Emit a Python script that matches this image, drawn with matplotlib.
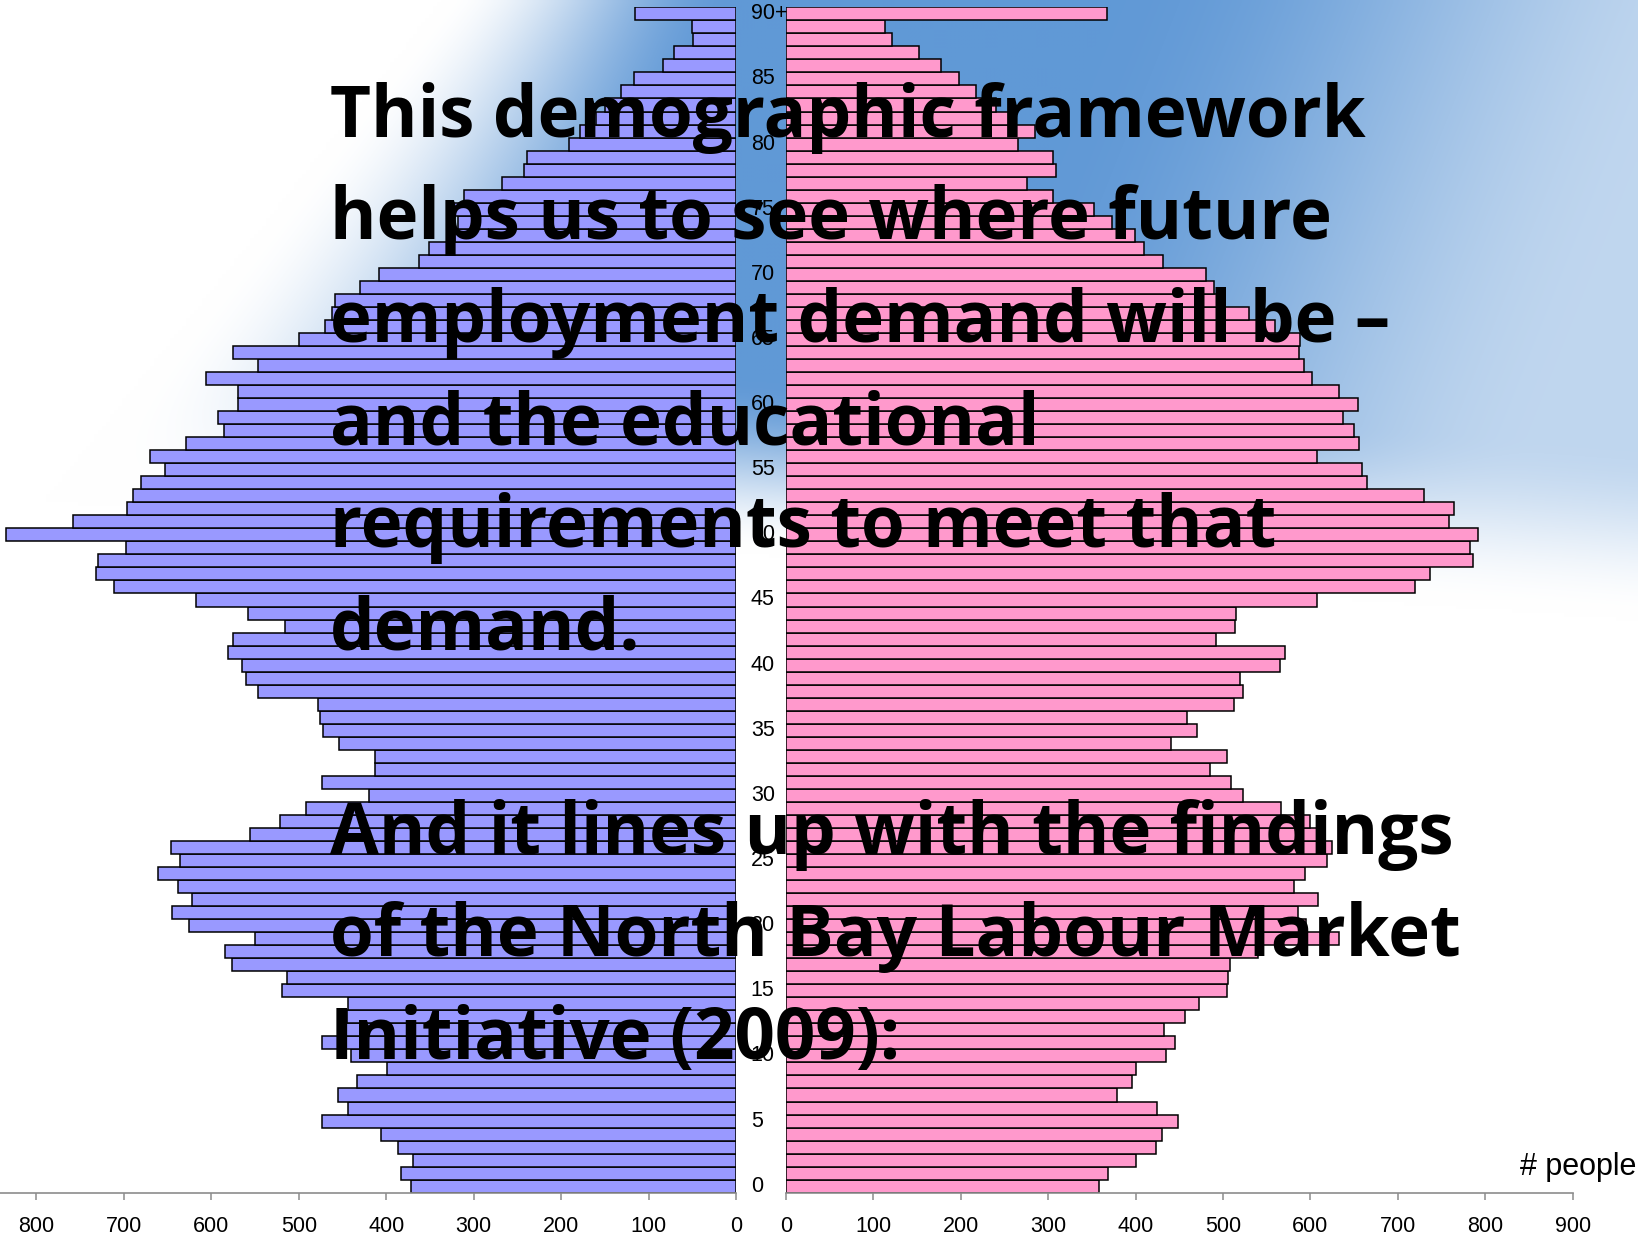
import numpy as np
import matplotlib
matplotlib.use("Agg")
import matplotlib.pyplot as plt

# ages 0 .. 90+ (index = age)
age_labels = ["0", "5", "10", "15", "20", "25", "30", "35", "40", "45",
              "50", "55", "60", "65", "70", "75", "80", "85", "90+"]
age_label_pos = [0, 5, 10, 15, 20, 25, 30, 35, 40, 45, 50, 55, 60, 65, 70, 75, 80, 85, 90]

left_people = [372, 383, 369, 387, 406, 473, 444, 455, 433, 399,
               440, 473, 450, 445, 444, 519, 513, 576, 584, 550,
               625, 645, 622, 638, 661, 636, 646, 556, 521, 492,
               420, 473, 413, 413, 454, 472, 476, 478, 547, 560,
               565, 581, 575, 516, 558, 617, 711, 732, 730, 697,
               835, 758, 696, 689, 680, 653, 670, 629, 586, 592,
               569, 570, 606, 547, 575, 500, 470, 462, 459, 430,
               408, 362, 351, 321, 318, 330, 311, 268, 242, 239,
               191, 178, 160, 150, 131, 117, 84, 71, 49, 50,
               115]

right_people = [358, 369, 401, 423, 430, 448, 425, 379, 396, 401,
                435, 445, 432, 456, 472, 504, 506, 508, 540, 633,
                595, 586, 609, 581, 594, 619, 625, 615, 600, 566,
                523, 509, 485, 505, 441, 470, 459, 513, 523, 519,
                565, 571, 492, 514, 515, 607, 719, 737, 786, 783,
                792, 758, 764, 730, 665, 659, 608, 655, 650, 637,
                654, 633, 602, 593, 587, 588, 560, 530, 500, 490,
                480, 431, 410, 399, 373, 352, 306, 276, 309, 305,
                266, 285, 262, 240, 217, 198, 178, 152, 122, 113,
                367]

left_ticks = [0, 100, 200, 300, 400, 500, 600, 700, 800]
right_ticks = [0, 100, 200, 300, 400, 500, 600, 700, 800, 900]

slide_lines = ["This demographic framework",
               "helps us to see where future",
               "employment demand will be \u2013",
               "and the educational",
               "requirements to meet that",
               "demand.",
               "",
               "And it lines up with the findings",
               "of the North Bay Labour Market",
               "Initiative (2009):"]

W, H = 1638, 1235
ages = np.arange(len(left_people))

fig = plt.figure(figsize=(W / 100, H / 100), dpi=100)

# sky-like background
def smooth(a, b, x):
    t = np.clip((x - a) / (b - a), 0, 1)
    return t * t * (3 - 2 * t)

yy, xx = np.mgrid[0:H:4, 0:W:4]
u = xx / W
v = yy / H
s_left = smooth(np.maximum(0.27 - 0.6 * v, 0.0), 0.45 - 0.25 * v, u)
s_bot = 1 - smooth(0.26 + 0.1 * u, 0.40 + 0.1 * u, v)
s_right = 1 - 0.6 * smooth(0.68, 1.05, u + 0.3 * v)
wgt = np.clip(s_left * s_bot * s_right, 0, 1)
sky = np.array([0.38, 0.60, 0.84])
img = 1 - wgt[..., None] * (1 - sky[None, None, :])

bg = fig.add_axes([0, 0, 1, 1], zorder=0)
bg.imshow(img, extent=[0, 1, 0, 1], aspect="auto", interpolation="bilinear")
bg.axis("off")

bottom = 1 - 1192.7 / H
height = (1192.7 - 7.3) / H

axL = fig.add_axes([0, bottom, 736 / W, height], zorder=1)
axR = fig.add_axes([785.8 / W, bottom, 787 / W, height], zorder=1)

axL.barh(ages, left_people, height=1.0, color="#9999FF", edgecolor="black", linewidth=1.1)
axR.barh(ages, right_people, height=1.0, color="#FF99CC", edgecolor="black", linewidth=1.1)

axL.set_xlim(841.6, 0)
axR.set_xlim(0, 900)
for ax, ticks in ((axL, left_ticks), (axR, right_ticks)):
    ax.set_ylim(-0.5, 90.5)
    ax.patch.set_alpha(0)
    for s in ("top", "left", "right"):
        ax.spines[s].set_visible(False)
    ax.spines["bottom"].set_color("#8c8c8c")
    ax.spines["bottom"].set_linewidth(1.2)
    ax.set_yticks([])
    ax.set_xticks(ticks)
    ax.set_xticklabels([str(t) for t in ticks])
    ax.tick_params(axis="x", direction="out", length=5, width=1.1, color="#8c8c8c",
                   pad=12, labelsize=15.5)
    for lab in ax.get_xticklabels():
        lab.set_family("Liberation Sans")

# age labels between the halves
for a, lab in zip(age_label_pos, age_labels):
    axR.text(-40, a, lab, ha="left", va="center", fontsize=15.5, family="Liberation Sans",
             clip_on=False)

fig.text(1636 / W, 1 - 1175 / H, "# people", ha="right", va="baseline", fontsize=22,
         family="Liberation Sans", zorder=5)

# slide text over the chart
for i, line in enumerate(slide_lines):
    if not line:
        continue
    base = 137 + i * 102.4
    fig.text(330 / W, 1 - base / H, line, ha="left", va="baseline", fontsize=51,
             fontweight="bold", family="Open Sans", color="black", zorder=5)

fig.savefig("out.png", dpi=100)
